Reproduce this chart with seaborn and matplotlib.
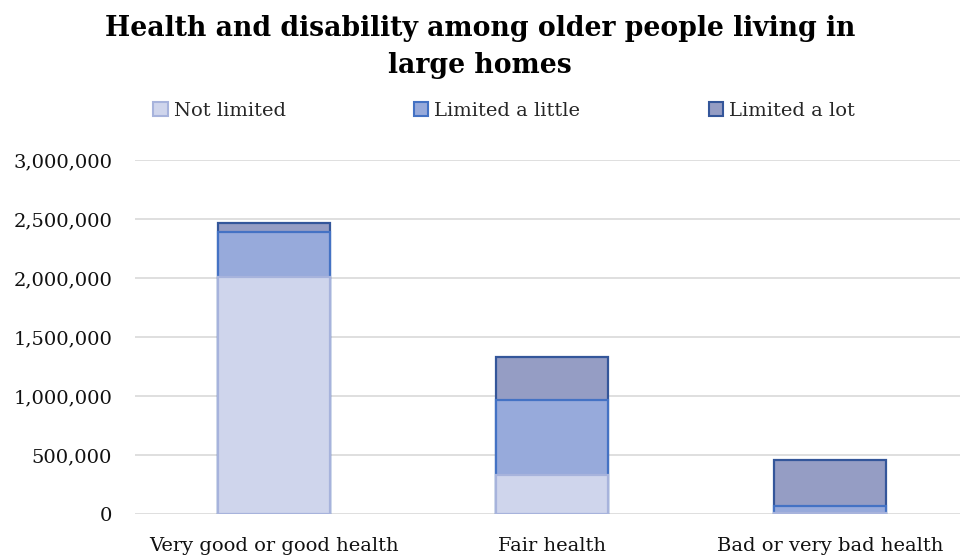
import matplotlib
matplotlib.use("Agg")
import matplotlib.pyplot as plt
import seaborn as sns
import pandas as pd
from matplotlib.patches import Patch
from matplotlib.ticker import FuncFormatter

categories = ["Very good or good health", "Fair health", "Bad or very bad health"]
not_limited = [2005000, 333000, 12000]
limited_little = [381000, 633000, 56000]
limited_lot = [77000, 361000, 390000]
series_names = ["Not limited", "Limited a little", "Limited a lot"]

fills = ["#CFD5EC", "#97AADB", "#959DC4"]
edges = ["#A7B3DC", "#4472C4", "#34569A"]

sns.set_theme(style="white")
plt.rcParams["font.family"] = ["DejaVu Serif"]

fig = plt.figure(figsize=(9.6, 5.59), dpi=100)
ax = fig.add_axes([135 / 960, 45 / 559, (969 - 135) / 960, (514 - 160) / 559])

cum1 = not_limited
cum2 = [a + b for a, b in zip(not_limited, limited_little)]
cum3 = [a + b + c for a, b, c in zip(not_limited, limited_little, limited_lot)]

for vals, fc, ec in [(cum3, fills[2], edges[2]), (cum2, fills[1], edges[1]), (cum1, fills[0], edges[0])]:
    df = pd.DataFrame({"cat": categories, "val": vals})
    sns.barplot(data=df, x="cat", y="val", color=fc, edgecolor=ec, linewidth=1.6,
                width=0.405, saturation=1, ax=ax, zorder=3)

ax.set_ylim(0, 3000000)
ax.set_xlim(-0.5, 2.5)
ax.set_yticks(range(0, 3000001, 500000))
ax.yaxis.set_major_formatter(FuncFormatter(lambda v, p: f"{int(v):,}"))
ax.yaxis.grid(True, color="#D9D9D9", linewidth=1.2, zorder=0)
ax.set_axisbelow(True)
for s in ax.spines.values():
    s.set_visible(False)
ax.set_xlabel("")
ax.set_ylabel("")
ax.tick_params(axis="both", length=0, labelsize=14, colors="#111111")
ax.tick_params(axis="y", pad=16.5)
ax.tick_params(axis="x", pad=16.5)

fig.text(0.5, 0.973, "Health and disability among older people living in\nlarge homes",
         ha="center", va="top", fontsize=19.2, fontweight="bold", linespacing=1.45,
         color="#000000")

handles = [Patch(facecolor=f, edgecolor=e, linewidth=1.5) for f, e in zip(fills, edges)]
fig.legend(handles, series_names, loc="center", bbox_to_anchor=(0.525, 0.802), ncol=3,
           frameon=False, fontsize=14, handlelength=0.75, handleheight=0.75,
           handletextpad=0.3, columnspacing=6.6)

fig.savefig("out.png", dpi=100)
